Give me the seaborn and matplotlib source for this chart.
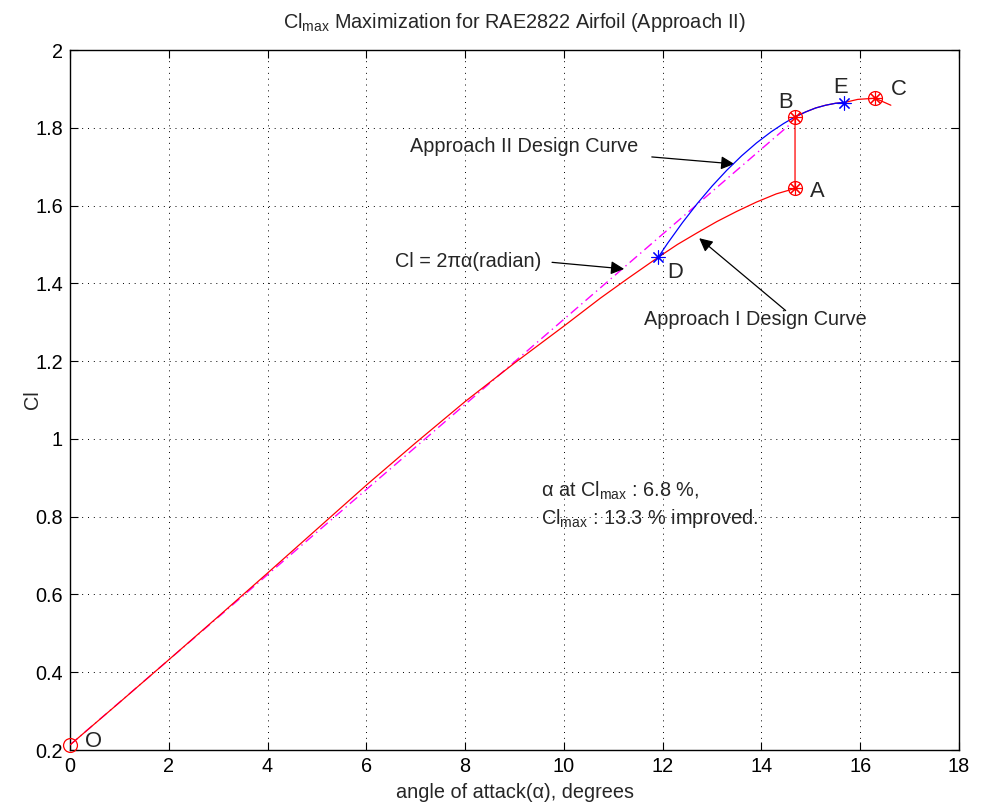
import matplotlib
matplotlib.use("Agg")
import matplotlib.pyplot as plt
import seaborn as sns
import pandas as pd

# ---------------- data ----------------
# Approach I design curve (red), O -> A, then step up to B, then B -> E -> C -> end
red_alpha = [0.0, 1.0, 2.0, 3.0, 4.0, 5.0, 6.0, 7.0, 8.0, 9.0, 10.0, 10.74, 11.3, 11.91,
             12.3, 12.7, 13.1, 13.5, 13.9, 14.3, 14.68,
             14.68, 14.9, 15.1, 15.3, 15.5, 15.68, 15.95, 16.30, 16.62]
red_cl = [0.213, 0.322, 0.432, 0.543, 0.655, 0.768, 0.881, 0.990, 1.096, 1.195, 1.290, 1.362, 1.413, 1.467,
          1.500, 1.530, 1.559, 1.585, 1.609, 1.630, 1.644,
          1.828, 1.841, 1.851, 1.858, 1.863, 1.865, 1.873, 1.876, 1.858]

# Approach II design curve (blue), D -> B -> E
blue_alpha = [11.91, 12.1, 12.4, 12.7, 13.0, 13.3, 13.6, 13.9, 14.2, 14.45, 14.68,
              14.9, 15.1, 15.3, 15.5, 15.68]
blue_cl = [1.467, 1.503, 1.556, 1.605, 1.650, 1.691, 1.728, 1.761, 1.790, 1.811, 1.828,
           1.841, 1.851, 1.858, 1.863, 1.865]

# Cl = 2*pi*alpha (radian) reference line (magenta dash-dot)
lin_alpha = [0.0, 14.59]
lin_cl = [0.213, 1.810]

# marked points
circ_star_alpha = [14.68, 14.68, 16.30]   # A, B, C
circ_star_cl = [1.644, 1.828, 1.876]
star_alpha = [11.91, 15.68]               # D, E
star_cl = [1.467, 1.865]
origin_alpha = [0.0]
origin_cl = [0.213]

point_names = ["O", "A", "B", "E", "C", "D"]
point_label_x = [0.47, 15.14, 14.49, 15.61, 16.78, 12.26]
point_label_y = [0.222, 1.635, 1.866, 1.904, 1.899, 1.429]

xticks = [0, 2, 4, 6, 8, 10, 12, 14, 16, 18]
yticks = [0.2, 0.4, 0.6, 0.8, 1.0, 1.2, 1.4, 1.6, 1.8, 2.0]
ytick_labels = ["0.2", "0.4", "0.6", "0.8", "1", "1.2", "1.4", "1.6", "1.8", "2"]

# ---------------- style ----------------
sns.set_theme(style="white")
plt.rcParams["font.family"] = ["Liberation Sans", "DejaVu Sans"]
plt.rcParams["mathtext.fontset"] = "custom"
plt.rcParams["mathtext.rm"] = "Liberation Sans"
plt.rcParams["mathtext.it"] = "Liberation Sans:italic"
plt.rcParams["mathtext.bf"] = "Liberation Sans:bold"
FS = 14.3

fig = plt.figure(figsize=(9.81, 8.10), dpi=100)
ax = fig.add_axes([70 / 981, 60 / 810, 889 / 981, 700 / 810])

red_df = pd.DataFrame({"alpha": red_alpha, "cl": red_cl})
blue_df = pd.DataFrame({"alpha": blue_alpha, "cl": blue_cl})
lin_df = pd.DataFrame({"alpha": lin_alpha, "cl": lin_cl})

sns.lineplot(data=lin_df, x="alpha", y="cl", ax=ax, color="#ff00ff", lw=1.0,
             linestyle=(0, (7, 3, 1, 3)), estimator=None, sort=False, zorder=2)
sns.lineplot(data=red_df, x="alpha", y="cl", ax=ax, color="#ff0000", lw=0.9,
             estimator=None, sort=False, zorder=3)
sns.lineplot(data=blue_df, x="alpha", y="cl", ax=ax, color="#0000ff", lw=0.9,
             estimator=None, sort=False, zorder=4)

# markers
ax.plot(circ_star_alpha, circ_star_cl, linestyle="none", marker="o", ms=10,
        mfc="none", mec="#ff0000", mew=0.9, zorder=5)
ax.plot(circ_star_alpha, circ_star_cl, linestyle="none", marker=(8, 2, 0), ms=10,
        mec="#ff0000", mew=0.8, zorder=5)
ax.plot(star_alpha, star_cl, linestyle="none", marker=(8, 2, 0), ms=10,
        mec="#0000ff", mew=0.8, zorder=6)
ax.plot(origin_alpha, origin_cl, linestyle="none", marker="o", ms=10,
        mfc="none", mec="#ff0000", mew=0.9, zorder=6, clip_on=False)

for name, tx, ty in zip(point_names, point_label_x, point_label_y):
    ax.text(tx, ty, name, fontsize=FS + 1.5, ha="center", va="center")

arrow = dict(arrowstyle="-|>", color="black", lw=0.9, mutation_scale=20,
             shrinkA=0, shrinkB=0)
ax.annotate("", xy=(13.45, 1.707), xytext=(11.78, 1.725), arrowprops=arrow)
ax.text(6.89, 1.752, "Approach II Design Curve", fontsize=FS, ha="left", va="center")
ax.annotate("", xy=(11.22, 1.437), xytext=(9.76, 1.454), arrowprops=arrow)
ax.text(6.59, 1.455, "Cl = 2πα(radian)", fontsize=FS, ha="left", va="center")
ax.annotate("", xy=(12.74, 1.516), xytext=(14.49, 1.330), arrowprops=arrow)
ax.text(11.62, 1.306, "Approach I Design Curve", fontsize=FS, ha="left", va="center")

ax.text(9.53, 0.866, r"α at Cl$_{\rm max}$ : 6.8 %,", fontsize=FS, ha="left", va="center")
ax.text(9.53, 0.795, r"Cl$_{\rm max}$ : 13.3 % improved.", fontsize=FS, ha="left", va="center")

# axes
ax.set_xlim(0, 18)
ax.set_ylim(0.2, 2.0)
ax.set_xticks(xticks)
ax.set_xticklabels([str(t) for t in xticks], fontsize=FS)
ax.set_yticks(yticks)
ax.set_yticklabels(ytick_labels, fontsize=FS)
ax.tick_params(direction="in", length=6, width=0.8, top=True, right=True,
               bottom=True, left=True, colors="black", pad=5)
ax.grid(True, color="black", linestyle=(0, (1, 5)), lw=0.7)
for s in ax.spines.values():
    s.set_visible(True)
    s.set_color("black")
    s.set_linewidth(1.0)

ax.set_xlabel("angle of attack(α), degrees", fontsize=FS, labelpad=5)
ax.set_ylabel("Cl", fontsize=FS, labelpad=-5)
ax.set_title(r"Cl$_{\rm max}$ Maximization for RAE2822 Airfoil (Approach II)",
             fontsize=FS, pad=16)

fig.savefig("out.png", dpi=100, facecolor="white")
